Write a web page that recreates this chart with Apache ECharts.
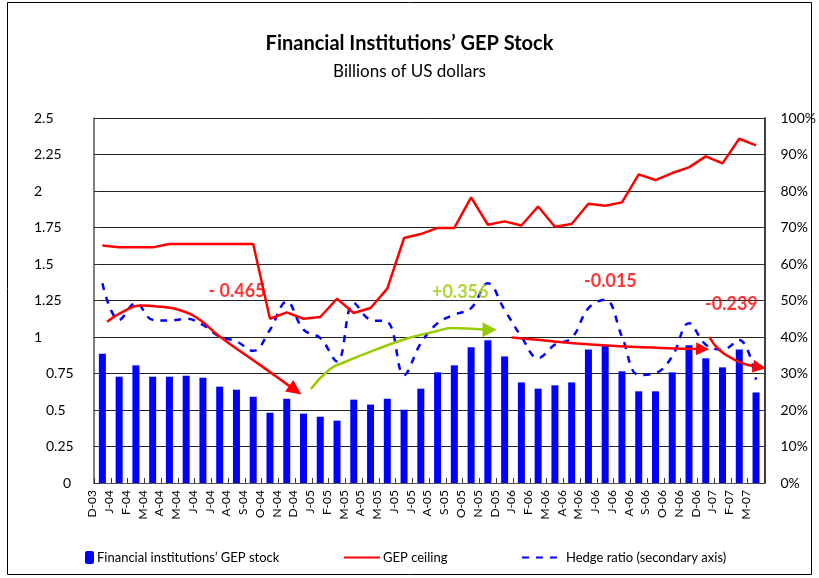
<!DOCTYPE html>
<html>
<head>
<meta charset="utf-8">
<script src="https://cdn.jsdelivr.net/npm/echarts@6/dist/echarts.min.js"></script>
<style>
  html, body { margin: 0; padding: 0; background: #fff; }
  #chart { width: 819px; height: 578px; }
</style>
</head>
<body>
<div id="chart"></div>
<script>
// categories (month labels as on the original axis)
const months = ['D-03','J-04','F-04','M-04','A-04','M-04','J-04','J-04','A-04','S-04','O-04','N-04',
  'D-04','J-05','F-05','M-05','A-05','M-05','J-05','J-05','A-05','S-05','O-05','N-05',
  'D-05','J-06','F-06','M-06','A-06','M-06','J-06','J-06','A-06','S-06','O-06','N-06',
  'D-06','J-07','F-07','M-07'];

// GEP stock, billions of US dollars
const gepStock = [0.886,0.728,0.806,0.728,0.728,0.735,0.721,0.66,0.639,0.591,0.481,0.577,
  0.475,0.454,0.427,0.571,0.537,0.577,0.502,0.646,0.758,0.806,0.929,0.977,
  0.867,0.689,0.646,0.669,0.689,0.915,0.943,0.765,0.628,0.628,0.758,0.943,
  0.854,0.792,0.915,0.62];

// GEP ceiling, billions of US dollars
const gepCeiling = [1.627,1.614,1.614,1.614,1.637,1.637,1.637,1.637,1.637,1.637,1.125,1.169,
  1.125,1.137,1.262,1.164,1.199,1.331,1.678,1.705,1.747,1.747,1.956,1.769,
  1.792,1.764,1.894,1.755,1.774,1.913,1.899,1.922,2.114,2.075,2.123,2.162,
  2.237,2.189,2.358,2.312];

// hedge ratio, percent (secondary axis)
const hedgeRatio = [54.7,44.7,49.3,44.7,44.5,45.0,43.3,40.1,38.8,36.2,42.0,49.7,
  42.0,39.7,33.3,49.3,44.7,44.2,29.6,38.3,43.8,46.1,47.9,54.7,
  47.4,40.1,34.2,37.9,39.7,47.9,50.2,40.1,29.6,30.1,34.7,43.8,
  37.9,36.5,39.2,28.3];

// annotation arrows, [category position, billions]
const arrowDown2004 = [[0.28,1.105],[1.35,1.18],[2.24,1.215],[3.43,1.208],[4.91,1.173],[5.81,1.118],[7.0,1.004],[9.55,0.797],[11.51,0.636]];
const arrowUp2005 = [[12.44,0.644],[13.53,0.776],[14.32,0.822],[16.3,0.913],[18.28,0.993],[19.87,1.038],[20.86,1.062],[22.25,1.055],[23.1,1.05]];
const arrowFlat2006 = [[24.42,0.997],[25.41,0.986],[29.38,0.947],[33.33,0.925],[35.81,0.918]];
const arrowDown2007 = [[36.21,1.0],[36.8,0.913],[37.7,0.845],[38.48,0.81],[39.2,0.793]];

// annotation texts and where they sit
const changeLabels = ['- 0.465','+0.356','-0.015','-0.239'];
const changeLabelPos = [[8.03,1.314],[21.35,1.307],[30.31,1.379],[37.53,1.225]];

const FONT = 'Lato, "Open Sans", sans-serif';
const RED = '#ff0000';
const BLUE = '#0000ff';
const GREEN = '#99cc00';

const chart = echarts.init(document.getElementById('chart'));

function arrowSeries(points, color, rotate, head) {
  const data = points.map((p, i) => {
    if (i < points.length - 1) return { value: p };
    return { value: p, symbol: 'triangle', symbolSize: head, symbolRotate: rotate, itemStyle: { color: color } };
  });
  return {
    type: 'line',
    xAxisIndex: 1,
    yAxisIndex: 0,
    data: data,
    smooth: 0.5,
    symbol: 'none',
    clip: false,
    silent: true,
    lineStyle: { color: color, width: 2.5 },
    z: 5
  };
}

const labelColors = [RED, GREEN, RED, RED];
const noSymbol = { color: 'rgba(0,0,0,0)', borderWidth: 0 };

const option = {
  animation: false,
  backgroundColor: '#fff',
  textStyle: { fontFamily: FONT, color: '#000' },
  title: [
    { text: 'Financial Institutions\u2019 GEP Stock', left: 'center', top: 29,
      textStyle: { fontFamily: FONT, fontSize: 20, fontWeight: 'bold', color: '#000' } },
    { text: 'Billions of US dollars', left: 'center', top: 58,
      textStyle: { fontFamily: FONT, fontSize: 17, fontWeight: 'normal', color: '#000' } }
  ],
  graphic: [
    { type: 'rect', shape: { x: 7.5, y: 2.5, width: 804, height: 572 },
      style: { fill: 'none', stroke: '#000', lineWidth: 1 }, silent: true }
  ],
  legend: [
    { left: 80, top: 546, itemWidth: 9, itemHeight: 13, itemGap: 0,
      data: ['Financial institutions\u2019 GEP stock'],
      textStyle: { fontFamily: FONT, fontSize: 13, color: '#000', padding: [0, 0, 0, -2] } },
    { left: 338, top: 546, itemWidth: 36, itemHeight: 13,
      data: [{ name: 'GEP ceiling', itemStyle: noSymbol }],
      textStyle: { fontFamily: FONT, fontSize: 13, color: '#000', padding: [0, 0, 0, -2] } },
    { left: 516, top: 546, itemWidth: 42, itemHeight: 13,
      data: [{ name: 'Hedge ratio (secondary axis)', itemStyle: noSymbol }],
      textStyle: { fontFamily: FONT, fontSize: 13, color: '#000', padding: [0, 0, 0, -3] } }
  ],
  grid: { left: 94, right: 52, top: 118, bottom: 95 },
  xAxis: [
    {
      type: 'category',
      data: months,
      axisLine: { lineStyle: { color: '#555', width: 1 } },
      axisTick: { show: true, inside: true, length: 5, interval: 0, lineStyle: { color: '#333' } },
      axisLabel: { interval: 0, rotate: 90, fontSize: 12, color: '#000', fontFamily: FONT, margin: 7,
        verticalAlign: 'bottom', padding: [0, 0, 4, 0] },
      splitLine: { show: false }
    },
    { type: 'value', min: -0.5, max: 39.5, show: false }
  ],
  yAxis: [
    {
      type: 'value', min: 0, max: 2.5, interval: 0.25,
      axisLine: { show: true, onZero: false, lineStyle: { color: '#555', width: 1.5 } },
      axisTick: { show: true, inside: true, length: 5, lineStyle: { color: '#333' } },
      splitLine: { show: true, lineStyle: { color: '#222', width: 1 } },
      axisLabel: {
        align: 'left', margin: 60, fontSize: 14, color: '#000', fontFamily: FONT,
        formatter: function (v) {
          const s = String(Math.round(v * 100) / 100);
          if (v === 0) return '{c|' + s + '}';
          if (v < 1) return '{b|' + s + '}';
          return '{a|' + s + '}';
        },
        rich: {
          a: { fontSize: 14, fontFamily: FONT, color: '#000' },
          b: { fontSize: 14, fontFamily: FONT, color: '#000', padding: [0, 0, 0, 12] },
          c: { fontSize: 14, fontFamily: FONT, color: '#000', padding: [0, 0, 0, 29] }
        }
      }
    },
    {
      type: 'value', min: 0, max: 100, interval: 10, position: 'right',
      axisLine: { show: true, onZero: false, lineStyle: { color: '#000', width: 1.5 } },
      axisTick: { show: true, inside: true, length: 5, lineStyle: { color: '#333' } },
      splitLine: { show: false },
      axisLabel: { formatter: '{value}%', margin: 16, fontSize: 14, color: '#000', fontFamily: FONT }
    }
  ],
  series: [
    {
      name: 'Financial institutions\u2019 GEP stock',
      type: 'bar',
      data: gepStock,
      barWidth: 7,
      itemStyle: { color: BLUE },
      z: 2
    },
    {
      name: 'Hedge ratio (secondary axis)',
      type: 'line',
      yAxisIndex: 1,
      data: hedgeRatio,
      smooth: 0.4,
      symbol: 'none',
      lineStyle: { color: BLUE, width: 2.5, type: [7, 7] },
      itemStyle: { color: BLUE },
      z: 3
    },
    {
      name: 'GEP ceiling',
      type: 'line',
      data: gepCeiling,
      symbol: 'none',
      lineStyle: { color: RED, width: 2.5 },
      itemStyle: { color: RED },
      z: 4
    },
    arrowSeries(arrowDown2004, RED, -126, [14, 15]),
    arrowSeries(arrowUp2005, GREEN, -90, [15, 14]),
    arrowSeries(arrowFlat2006, RED, -92, [13, 13]),
    arrowSeries(arrowDown2007, RED, -100, [13, 13]),
    {
      type: 'scatter',
      xAxisIndex: 1,
      yAxisIndex: 0,
      symbolSize: 0,
      silent: true,
      z: 6,
      data: changeLabels.map((t, i) => ({ value: changeLabelPos[i], name: t,
        label: { color: labelColors[i] } })),
      label: {
        show: true, position: 'inside', formatter: p => p.name,
        fontFamily: FONT, fontSize: 18, fontWeight: 'bold'
      }
    }
  ]
};

chart.setOption(option);
</script>
</body>
</html>
